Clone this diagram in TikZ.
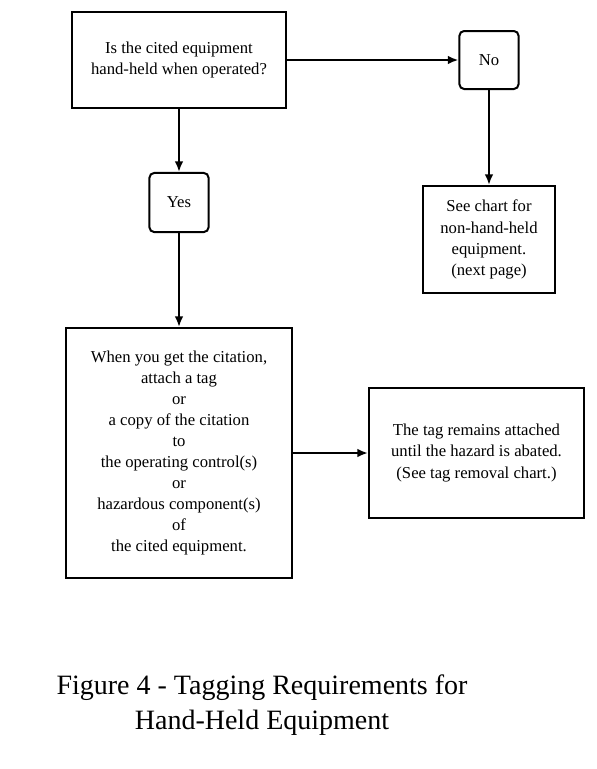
\documentclass[tikz,border=0pt]{standalone}
\usepackage{fontspec}
\setmainfont{Liberation Serif}
\usetikzlibrary{arrows.meta}

\begin{document}
\begin{tikzpicture}[x=0.75pt,y=-0.75pt,line width=1.5pt,
        >={Latex[length=8pt,width=6.5pt]},
        box/.style={draw,line width=1.5pt,align=center,inner sep=0pt,
            font=\fontsize{12.5}{15.8}\selectfont},
        rbox/.style={box,rounded corners=3.5pt}]
                \useasboundingbox (0,0) rectangle (597,769);
                \node[box,minimum width=160.5pt,minimum height=71.3pt] (HandQ) at (179,60) {Is the cited equipment\\hand-held when operated?};
                \node[rbox,minimum width=44.3pt,minimum height=43.5pt] (No) at (489,60) {No};
                \node[rbox,minimum width=44.3pt,minimum height=44.3pt] (Yes) at (179,202.5) {Yes};
                \node[box,minimum width=99pt,minimum height=80.3pt] (SeeChart) at (489,239.5) {See chart for\\non-hand-held\\equipment.\\(next page)};
                \node[box,minimum width=169.5pt,minimum height=187.5pt] (AttachTag) at (179,453) {When you get the citation,\\attach a tag\\or\\a copy of the citation\\to\\the operating control(s)\\or\\hazardous component(s)\\of\\the cited equipment.};
                \node[box,minimum width=161.3pt,minimum height=97.5pt] (TagStays) at (476.5,453) {The tag remains attached\\until the hazard is abated.\\(See tag removal chart.)};
                \node[align=center,font=\fontsize{21}{26.3}\selectfont] (Caption) at (262,705.5) {Figure 4 - Tagging Requirements for\\Hand-Held Equipment};
                \draw[->] (HandQ) -- (No);
                \draw[->] (HandQ) -- (Yes);
                \draw[->] (No) -- (SeeChart);
                \draw[->] (Yes) -- (AttachTag);
                \draw[->] (AttachTag) -- (TagStays);
            \end{tikzpicture}
\end{document}
